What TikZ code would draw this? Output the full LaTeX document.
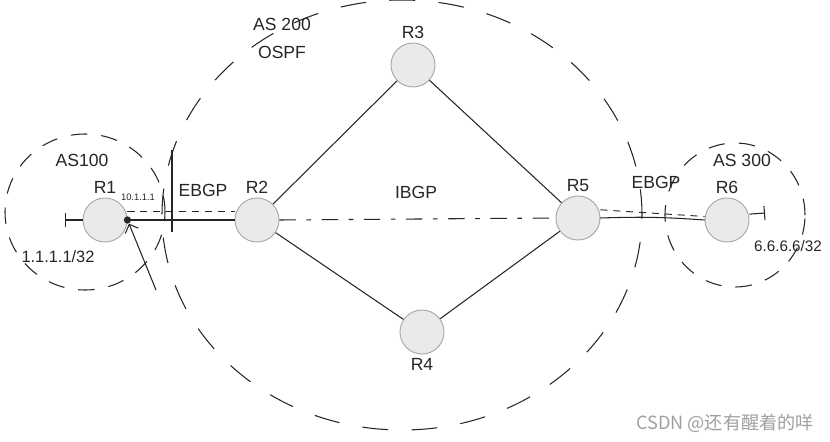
\documentclass[tikz,border=0pt]{standalone}
\usepackage{fontspec}
\setmainfont{Liberation Sans}
\newfontfamily\cjk{Noto Sans CJK SC}
\usetikzlibrary{arrows.meta}
\definecolor{Pen}{HTML}{262626}
\definecolor{NodeFill}{HTML}{EAEAEA}
\definecolor{NodeRim}{HTML}{A8A8A8}
\definecolor{Mark}{HTML}{A0A0A0}

\begin{document}
\begin{tikzpicture}[x=0.03cm,y=-0.03cm,every node/.style={font=\fontsize{15}{17}\selectfont,text=Pen},router/.style={circle,fill=NodeFill,draw=NodeRim,line width=0.8pt,minimum size=1.32cm,inner sep=0pt,label distance=3pt},link/.style={draw=Pen,line width=0.9pt},aszone/.style={draw=Pen,line width=0.9pt,dash pattern=on 22pt off 20pt},edgezone/.style={draw=Pen,line width=0.9pt,dash pattern=on 14pt off 12pt},ebgp/.style={draw=Pen,line width=0.8pt,dash pattern=on 6pt off 5pt},ibgp/.style={draw=Pen,line width=0.9pt,dash pattern=on 14pt off 9pt on 4pt off 9pt},loop/.style={link,-{Bar[width=12pt]}}]
\fill[white] (0,0) rectangle (830,441);\useasboundingbox (0,0) rectangle (830,441);

% AS boundaries
\draw[edgezone] (85,212) ellipse [x radius=2.4cm,y radius=2.34cm];
\draw[aszone] (402,215) ellipse [x radius=7.2cm,y radius=6.45cm];
\draw[edgezone] (735,215) ellipse [x radius=2.1cm,y radius=2.16cm];

\node[router,label=above:{R1}] (R1) at (105,220){};\node[router,label=above:{R2}] (R2) at (257,220){};
\node[router,label=above:{R3}] (R3) at (413,65){};\node[router,label=below:{R4}] (R4) at (422,332){};
\node[router,label=above:{R5}] (R5) at (578,218){};\node[router,label=above:{R6}] (R6) at (727,220){};

\draw[link] (R2)--(R3);\draw[link] (R3)--(R5);\draw[link] (R2)--(R4);\draw[link] (R4)--(R5);
\draw[link,line width=1.3pt] (R1.east)--(R2.west);\draw[link] (R5.east) to[bend left=3] (R6.west);
\draw[ibgp] (R2.east)--(R5.west);
\draw[ebgp] ([yshift=7pt]R1.east)--([yshift=7pt]R2.west);\draw[ebgp] ([yshift=7pt]R5.east)--([yshift=3pt]R6.west);

\coordinate (lo1) at (65,220);\coordinate (lo6) at (765,213);
\draw[loop] (R1.west)--(lo1);\draw[loop] ([yshift=5pt]R6.east)--(lo6);
\coordinate (edgetop) at (172,150);\coordinate (edgebot) at (172,232);\draw[link] (edgetop)--(edgebot);
\node[circle,fill=Pen,inner sep=2.2pt] (dot) at (R1.east){};
\coordinate (tail) at (156,290);\draw[link,->,>={Straight Barb[length=6pt]}] (tail)--(dot);

\node at (82,160){AS100};\node at (282,24){AS 200};\node at (282,52){OSPF};\node at (742,160){AS 300};
\node at (203,190){EBGP};\node at (416,192){IBGP};\node at (656,182){EBGP};
\node[font=\fontsize{8}{9}\selectfont] at (138,197){10.1.1.1};
\node[font=\fontsize{14}{16}\selectfont] at (58,257){1.1.1.1/32};\node[font=\fontsize{13}{15}\selectfont] at (788,246){6.6.6.6/32};
\node[font=\cjk\fontsize{15.5}{18}\selectfont,text=Mark,anchor=east] at (818,423){CSDN @还有醒着的咩};
\end{tikzpicture}
\end{document}
